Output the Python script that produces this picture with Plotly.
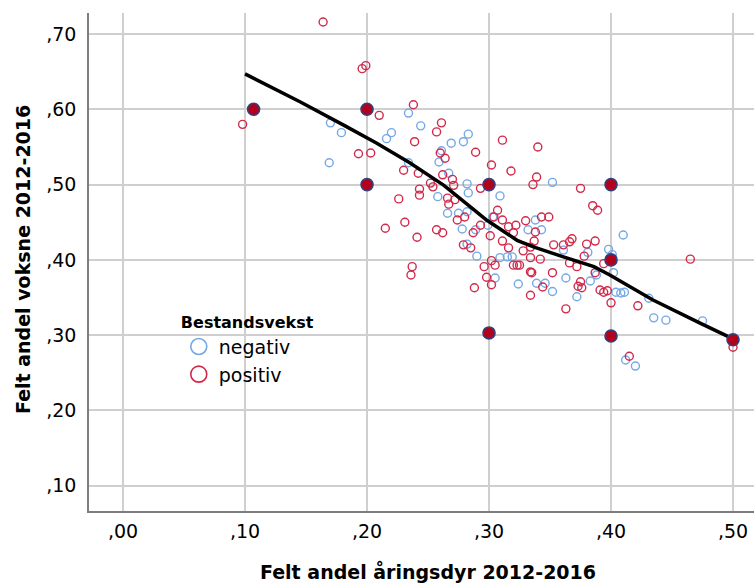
import plotly.graph_objects as go

# ---- data ----
neg_x = [0.170, 0.179, 0.169, 0.234, 0.244, 0.220, 0.216, 0.269, 0.279, 0.283,
         0.261, 0.259, 0.234, 0.267, 0.282, 0.283, 0.309, 0.258, 0.266, 0.275,
         0.282, 0.278, 0.289, 0.299, 0.303, 0.282, 0.290, 0.309, 0.315, 0.319,
         0.338, 0.332, 0.343, 0.352, 0.361, 0.381, 0.398, 0.401, 0.410, 0.402,
         0.388, 0.383, 0.363, 0.352, 0.339, 0.346, 0.324, 0.305, 0.372, 0.404,
         0.408, 0.411, 0.431, 0.435, 0.445, 0.475, 0.412, 0.420]
neg_y = [0.582, 0.569, 0.529, 0.595, 0.578, 0.569, 0.561, 0.555, 0.557, 0.567,
         0.545, 0.530, 0.529, 0.515, 0.501, 0.489, 0.485, 0.484, 0.462, 0.462,
         0.464, 0.441, 0.440, 0.446, 0.457, 0.421, 0.405, 0.403, 0.404, 0.404,
         0.453, 0.440, 0.440, 0.503, 0.413, 0.410, 0.414, 0.407, 0.433, 0.383,
         0.380, 0.372, 0.376, 0.358, 0.369, 0.369, 0.368, 0.376, 0.351, 0.357,
         0.356, 0.357, 0.349, 0.323, 0.320, 0.319, 0.267, 0.259]

pos_x = [0.164, 0.196, 0.199, 0.098, 0.210, 0.193, 0.203, 0.238, 0.261, 0.257,
         0.239, 0.311, 0.340, 0.289, 0.260, 0.264, 0.302, 0.318, 0.230, 0.242,
         0.262, 0.270, 0.271, 0.293, 0.243, 0.243, 0.252, 0.254, 0.226, 0.266,
         0.267, 0.272, 0.307, 0.274, 0.280, 0.215, 0.231, 0.241, 0.257, 0.262,
         0.287, 0.293, 0.301, 0.304, 0.311, 0.316, 0.322, 0.320, 0.330, 0.343,
         0.349, 0.338, 0.337, 0.311, 0.328, 0.334, 0.316, 0.279, 0.285, 0.320,
         0.323, 0.325, 0.302, 0.305, 0.296, 0.334, 0.342, 0.353, 0.361, 0.366,
         0.368, 0.380, 0.387, 0.378, 0.366, 0.372, 0.394, 0.465, 0.298, 0.302,
         0.288, 0.334, 0.335, 0.352, 0.344, 0.375, 0.373, 0.376, 0.387, 0.391,
         0.394, 0.397, 0.334, 0.363, 0.400, 0.422, 0.500, 0.415, 0.237, 0.236,
         0.385, 0.389, 0.375, 0.339, 0.336]
pos_y = [0.716, 0.654, 0.658, 0.580, 0.592, 0.541, 0.542, 0.606, 0.582, 0.570,
         0.557, 0.559, 0.550, 0.543, 0.542, 0.535, 0.526, 0.518, 0.519, 0.515,
         0.513, 0.507, 0.499, 0.495, 0.494, 0.486, 0.502, 0.497, 0.481, 0.482,
         0.474, 0.480, 0.466, 0.453, 0.457, 0.442, 0.450, 0.430, 0.440, 0.436,
         0.436, 0.446, 0.432, 0.457, 0.453, 0.444, 0.446, 0.436, 0.452, 0.457,
         0.457, 0.437, 0.425, 0.425, 0.412, 0.417, 0.416, 0.420, 0.416, 0.393,
         0.393, 0.393, 0.399, 0.393, 0.391, 0.403, 0.401, 0.420, 0.420, 0.424,
         0.428, 0.421, 0.425, 0.405, 0.396, 0.391, 0.395, 0.401, 0.377, 0.367,
         0.363, 0.384, 0.383, 0.383, 0.364, 0.371, 0.365, 0.363, 0.383, 0.360,
         0.357, 0.359, 0.353, 0.335, 0.343, 0.339, 0.284, 0.272, 0.391, 0.380,
         0.472, 0.466, 0.495, 0.510, 0.500]

both_x = [0.107, 0.200, 0.200, 0.300, 0.400, 0.400, 0.300, 0.400, 0.500]
both_y = [0.600, 0.600, 0.500, 0.500, 0.500, 0.400, 0.303, 0.299, 0.294]

fit_x = [0.100, 0.145, 0.182, 0.208, 0.235, 0.263, 0.288, 0.298, 0.323, 0.337,
         0.361, 0.386, 0.399, 0.434, 0.473, 0.500]
fit_y = [0.647, 0.610, 0.578, 0.555, 0.529, 0.499, 0.466, 0.453, 0.426, 0.417,
         0.404, 0.391, 0.380, 0.347, 0.316, 0.295]

x_ticks = [0.0, 0.1, 0.2, 0.3, 0.4, 0.5]
x_tick_labels = [",00", ",10", ",20", ",30", ",40", ",50"]
y_ticks = [0.1, 0.2, 0.3, 0.4, 0.5, 0.6, 0.7]
y_tick_labels = [",10", ",20", ",30", ",40", ",50", ",60", ",70"]

groups = ["negativ", "positiv"]
legend_title = "Bestandsvekst"
x_title = "Felt andel åringsdyr 2012-2016"
y_title = "Felt andel voksne 2012-2016"

BLUE = "#74a9e6"
RED = "#d2294b"
FONT = "DejaVu Sans"

fig = go.Figure()
fig.add_trace(go.Scatter(x=neg_x, y=neg_y, mode="markers", showlegend=False,
                         marker=dict(symbol="circle-open", size=8, color=BLUE,
                                     line=dict(width=1.4, color=BLUE))))
fig.add_trace(go.Scatter(x=pos_x, y=pos_y, mode="markers", showlegend=False,
                         marker=dict(symbol="circle-open", size=8, color=RED,
                                     line=dict(width=1.4, color=RED))))
fig.add_trace(go.Scatter(x=fit_x, y=fit_y, mode="lines", showlegend=False,
                         line=dict(color="black", width=3.5)))
fig.add_trace(go.Scatter(x=both_x, y=both_y, mode="markers", showlegend=False,
                         marker=dict(symbol="circle", size=12, color="#b3001b",
                                     line=dict(width=1.6, color="#34407e"))))
# legend entries
for name, col in zip(groups, [BLUE, RED]):
    fig.add_trace(go.Scatter(x=[None], y=[None], mode="markers", name=name,
                             marker=dict(symbol="circle-open", size=16, color=col,
                                         line=dict(width=1.6, color=col))))

fig.update_layout(
    width=754, height=585,
    margin=dict(l=89, r=0, t=13, b=74),
    paper_bgcolor="white", plot_bgcolor="white",
    font=dict(family=FONT, size=19, color="black"),
    showlegend=True,
    legend=dict(x=0.135, y=0.41, xanchor="left", yanchor="top",
                bgcolor="rgba(0,0,0,0)", tracegroupgap=0,
                title=dict(text=legend_title, side="top center",
                           font=dict(family=FONT, size=16, weight="bold")),
                font=dict(family=FONT, size=19)),
    xaxis=dict(range=[-0.0279, 0.5172], tickvals=x_ticks, ticktext=x_tick_labels,
               showgrid=True, gridcolor="#cfcfcf", gridwidth=1.5,
               showline=True, linecolor="#7d7d7d", linewidth=1.5,
               zeroline=False, ticks="", ticklabelstandoff=2),
    yaxis=dict(range=[0.0665, 0.7279], tickvals=y_ticks, ticktext=y_tick_labels,
               showgrid=True, gridcolor="#cfcfcf", gridwidth=1.5,
               showline=True, linecolor="#7d7d7d", linewidth=1.5,
               zeroline=False, ticks="", ticklabelstandoff=7),
    annotations=[
        dict(text=x_title, xref="paper", yref="paper", x=0.51, y=-0.1205,
             xanchor="center", yanchor="middle", showarrow=False,
             font=dict(family=FONT, size=19, weight="bold")),
        dict(text=y_title, xref="paper", yref="paper", x=-0.0992, y=0.504,
             xanchor="center", yanchor="middle", showarrow=False, textangle=-90,
             font=dict(family=FONT, size=19, weight="bold")),
    ],
)

fig.write_html("out.html")
